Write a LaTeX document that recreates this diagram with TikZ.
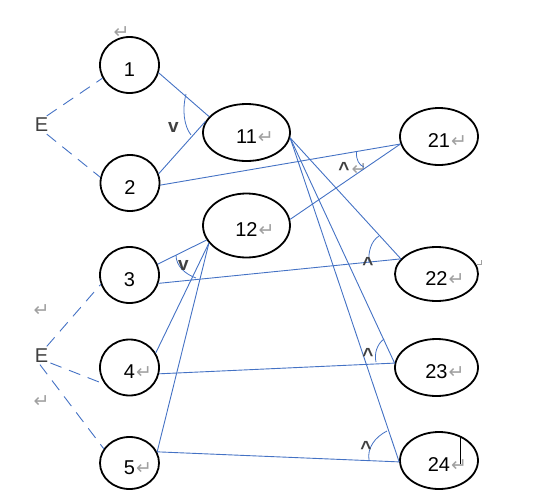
\documentclass[tikz,border=0pt]{standalone}
\usepackage{fontspec}
\setmainfont{Liberation Sans}
\newfontfamily\symfont{DejaVu Sans}
\usepackage{tikz}
\usetikzlibrary{shapes.geometric}
\definecolor{WordBlue}{HTML}{4472C4}
\definecolor{MarkGray}{HTML}{A0A0A0}
\definecolor{LabelGray}{HTML}{404040}
\newcommand{\retmark}{{\symfont\fontsize{19}{19}\selectfont\color{MarkGray}\kern1pt↵}}

\begin{document}
\begin{tikzpicture}[x=1pt, y=-1pt,
    ring/.style={draw, ellipse, line width=1.8pt, inner sep=0pt, text height=22pt, text depth=0pt, font=\fontsize{20}{20}\selectfont},
    link/.style={color=WordBlue, line width=0.9pt},
    dlink/.style={color=WordBlue, line width=0.9pt, dash pattern=on 12pt off 8pt},
    arcmark/.style={color=WordBlue, line width=0.8pt},
    anglbl/.style={color=LabelGray, font=\bfseries\fontsize{19}{19}\selectfont, inner sep=0pt},
    caret/.style={anglbl, anchor=base}]
                \useasboundingbox (0,0) rectangle (558,499);

                % Left column
                \node[ring, minimum width=59pt, minimum height=56pt] (n1) at (129.5,65) {1};
                \node[ring, minimum width=59pt, minimum height=56pt] (n2) at (130,183) {2};
                \node[ring, minimum width=59pt, minimum height=56pt] (n3) at (129.5,275) {3};
                \node[ring, minimum width=59pt, minimum height=56pt] (n4) at (129.5,367.5) {4\rlap{\retmark}};
                \node[ring, minimum width=59pt, minimum height=52pt] (n5) at (129.5,463) {5\rlap{\retmark}};

                % Middle column
                \node[ring, minimum width=87pt, minimum height=57pt] (n11) at (246.5,132.5) {11\rlap{\retmark}};
                \node[ring, minimum width=87pt, minimum height=64pt] (n12) at (246.5,225.5) {12\rlap{\retmark}};

                % Right column
                \node[ring, minimum width=78pt, minimum height=57pt] (n21) at (439,136.5) {21\rlap{\retmark}};
                \node[ring, minimum width=83pt, minimum height=54pt] (n22) at (436.5,274) {22\rlap{\retmark}};
                \node[ring, minimum width=83pt, minimum height=57pt] (n23) at (436.5,367.5) {23\rlap{\retmark}};
                \node[ring, minimum width=78pt, minimum height=57pt] (n24) at (439,460.5) {24\rlap{\retmark}};

                % E labels and stray paragraph marks
                \node[color=LabelGray, font=\fontsize{20}{20}\selectfont, inner sep=2pt] (eTop) at (41.5,125) {E};
                \node[color=LabelGray, font=\fontsize{20}{20}\selectfont, inner sep=2pt] (eBot) at (41.5,355.5) {E};
                \node[inner sep=0pt] (p1) at (121,32.5) {\retmark};
                \node[inner sep=0pt] (p2) at (41,310.5) {\retmark};
                \node[inner sep=0pt] (p3) at (41,402) {\retmark};
                \node[inner sep=0pt] (p4) at (359,170) {\retmark};

                % Dashed links from E
                \draw[dlink] (eTop.60) -- (n1.206);
                \draw[dlink] (eTop.-60) -- (n2.169);
                \draw[dlink] (eBot.60) -- (n3.198);
                \draw[dlink] (eBot.-40) -- (n4.214);
                \draw[dlink] (eBot.-100) -- (n5.151);

                % Links into 11 and 12
                \draw[link] (n1.-15) -- (n11.157);
                \draw[link] (n2.18) -- (n11.165);
                \draw[link] (n3.21) -- (n12.200);
                \draw[link] (n4.29) -- (n12.205);
                \draw[link] (n5.22) -- (n12.205);

                % Links into the right column
                \draw[link] (n2.-4) -- (n21.191);
                \draw[link] (n12.8) -- (n21.191);
                \draw[link] (n11.-7) -- (n22.157);
                \draw[link] (n3.-16) -- (n22.157);
                \draw[link] (n11.-7) -- (n23.174);
                \draw[link] (n4.-12) -- (n23.174);
                \draw[link] (n11.-7) -- (n24.182);
                \draw[link] (n5.22) -- (n24.182);

                % Angle marks
                \draw[arcmark] (186,94) .. controls (182,110) and (184,126) .. (191,135);
                \node[anglbl] (v1) at (173.5,127) {v};
                \draw[arcmark] (176,255) .. controls (176,266) and (185,274) .. (196,278);
                \node[anglbl] (v2) at (183.5,265.5) {v};
                \draw[arcmark] (356.5,152) .. controls (356,160) and (359,165) .. (364,167);
                \node[caret] (c1) at (344,175) {\textasciicircum};
                \draw[arcmark] (379,236) .. controls (371,241) and (368,252) .. (369,263);
                \node[caret] (c2) at (368,270) {\textasciicircum};
                \draw[arcmark] (384,339) .. controls (377,344) and (374,354) .. (376,362);
                \node[caret] (c3) at (368,361) {\textasciicircum};
                \draw[arcmark] (387,431) .. controls (375,437) and (367,448) .. (369,460);
                \node[caret] (c4) at (366,454.5) {\textasciicircum};

                % Corner mark and cursor
                \draw[color=MarkGray, line width=0.6pt] (477,264) -- (481,264) -- (481,260);
                \draw[color=black, line width=0.8pt] (460,437) -- (460,464);
            \end{tikzpicture}
\end{document}
